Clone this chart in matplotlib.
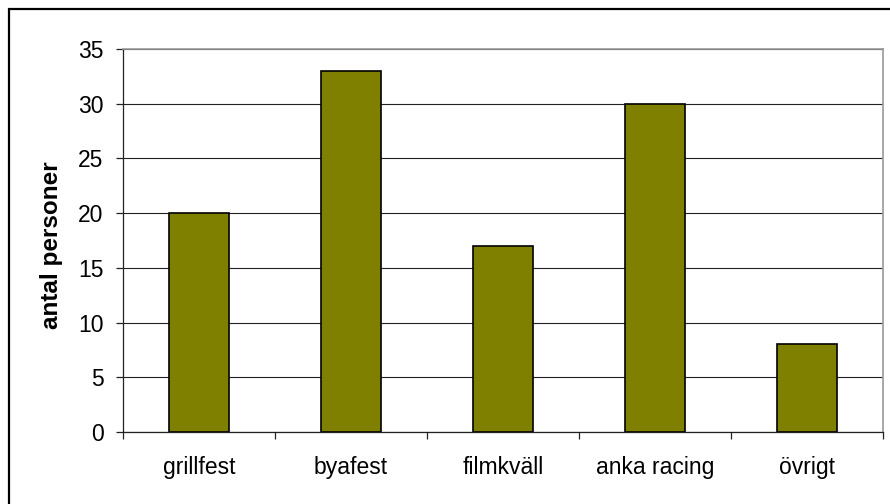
import matplotlib
matplotlib.use("Agg")
import matplotlib.pyplot as plt
from matplotlib.patches import Rectangle
import numpy as np

categories = ["grillfest", "byafest", "filmkväll", "anka racing", "övrigt"]
values = [20, 33, 17, 30, 8]
yticks = [0, 5, 10, 15, 20, 25, 30, 35]
ylabel = "antal personer"

plt.rcParams['font.family'] = ['Liberation Sans', 'DejaVu Sans']

W, H = 890, 504
fig = plt.figure(figsize=(W / 100, H / 100), dpi=100)
fig.patch.set_facecolor("white")

# outer border (left and top visible)
fig.patches.append(Rectangle((9 / W, -0.2), 1.5, 1.2 - 9 / H + 0.0,
                             transform=fig.transFigure, fill=False,
                             edgecolor="black", linewidth=1.6))

ax = fig.add_axes([123 / W, 1 - 432 / H, (883 - 123) / W, (432 - 49) / H])
x = np.arange(len(categories))
ax.bar(x, values, width=0.4, color="#808000", edgecolor="black",
       linewidth=1.2, zorder=3)

ax.set_xlim(-0.5, len(categories) - 0.5)
ax.set_ylim(0, 35)
ax.set_yticks(yticks)
ax.yaxis.grid(True, color="#222222", linewidth=0.8, zorder=0)

ax.set_xticks(x)
ax.set_xticklabels(categories, fontsize=16.5)
ax.tick_params(axis="x", which="major", length=0, pad=17)
ax.set_xticks(np.arange(-0.5, len(categories)), minor=True)
ax.tick_params(axis="x", which="minor", length=5, width=0.9, color="#222222", direction="out")
ax.tick_params(axis="y", length=5, width=0.9, color="#222222", labelsize=16.5, pad=9)

for s in ["left", "bottom"]:
    ax.spines[s].set_color("#222222")
    ax.spines[s].set_linewidth(0.9)
for s in ["top", "right"]:
    ax.spines[s].set_color("#999999")
    ax.spines[s].set_linewidth(1.2)

fig.text(52 / W, 1 - 245 / H, ylabel, rotation=90, ha="center", va="center",
         fontsize=17.5, fontweight="bold")

fig.savefig("out.png", dpi=100)
